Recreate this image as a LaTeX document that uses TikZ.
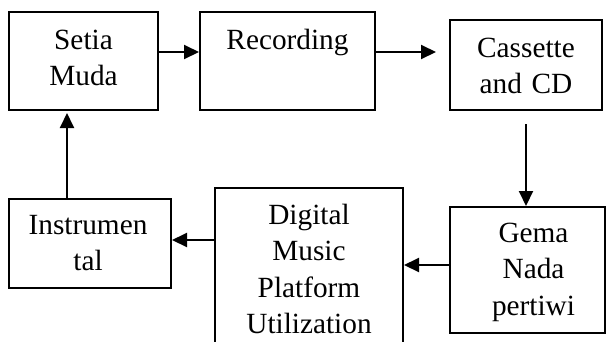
\documentclass[tikz,border=0pt]{standalone}
\usepackage{fontspec}
\setmainfont{Liberation Serif}
\usetikzlibrary{arrows.meta}

\tikzset{
  blk/.style={draw, line width=2pt, rectangle, inner sep=0pt},
  txt/.style={inner sep=0pt, align=center, text width=#1, anchor=base,
    font=\fontsize{29.3}{36.5}\selectfont},
  arr/.style={line width=2pt, -{Triangle[length=15pt,width=14pt]}}
}

\begin{document}
\begin{tikzpicture}[x=1pt,y=1pt]
      \useasboundingbox (0,0) rectangle (607,-341);
      \clip (0,0) rectangle (607,-341);
      % boxes
      \node[blk, minimum width=149pt, minimum height=98pt] (setia) at (83.5,-61) {};
      \node[blk, minimum width=175pt, minimum height=98pt] (rec) at (287.5,-61) {};
      \node[blk, minimum width=152pt, minimum height=90pt] (cass) at (526,-65) {};
      \node[blk, minimum width=155pt, minimum height=126pt] (gema) at (527.5,-270) {};
      \node[blk, minimum width=188pt, minimum height=167pt] (digital) at (309,-271.5) {};
      \node[blk, minimum width=162pt, minimum height=89pt] (inst) at (90,-243.5) {};
      % texts
      \node[txt=140pt] (setiat) at ([yshift=-38pt]setia.north) {Setia\\Muda};
      \node[txt=170pt] (rect) at ([yshift=-38pt]rec.north) {Recording};
      \node[txt=145pt] (casst) at ([yshift=-38pt]cass.north) {Cassette\\and CD};
      \node[txt=150pt] (gemat) at ([xshift=6pt,yshift=-36pt]gema.north) {Gema\\Nada\\pertiwi};
      \node[txt=180pt] (digitalt) at ([yshift=-37pt]digital.north) {Digital\\Music\\Platform\\Utilization};
      \node[txt=160pt] (instt) at ([xshift=-2pt,yshift=-36pt]inst.north) {Instrumen\\tal};
      % connectors
      \draw[arr] ([yshift=9pt]setia.east) -- ([yshift=9pt]setia.east -| rec.west);
      \draw[arr, shorten >=13pt] ([yshift=9pt]rec.east) -- ([yshift=9pt]rec.east -| cass.west);
      \draw[arr, shorten <=13pt] (cass.south) -- (cass.south |- gema.north);
      \draw[arr] ([yshift=5pt]gema.west) -- ([yshift=5pt]gema.west -| digital.east);
      \draw[arr] ([yshift=3.5pt]inst.east -| digital.west) -- ([yshift=3.5pt]inst.east);
      \draw[arr, shorten >=2pt] ([xshift=-23pt]inst.north) -- ([xshift=-23pt]inst.north |- setia.south);
    \end{tikzpicture}
\end{document}
